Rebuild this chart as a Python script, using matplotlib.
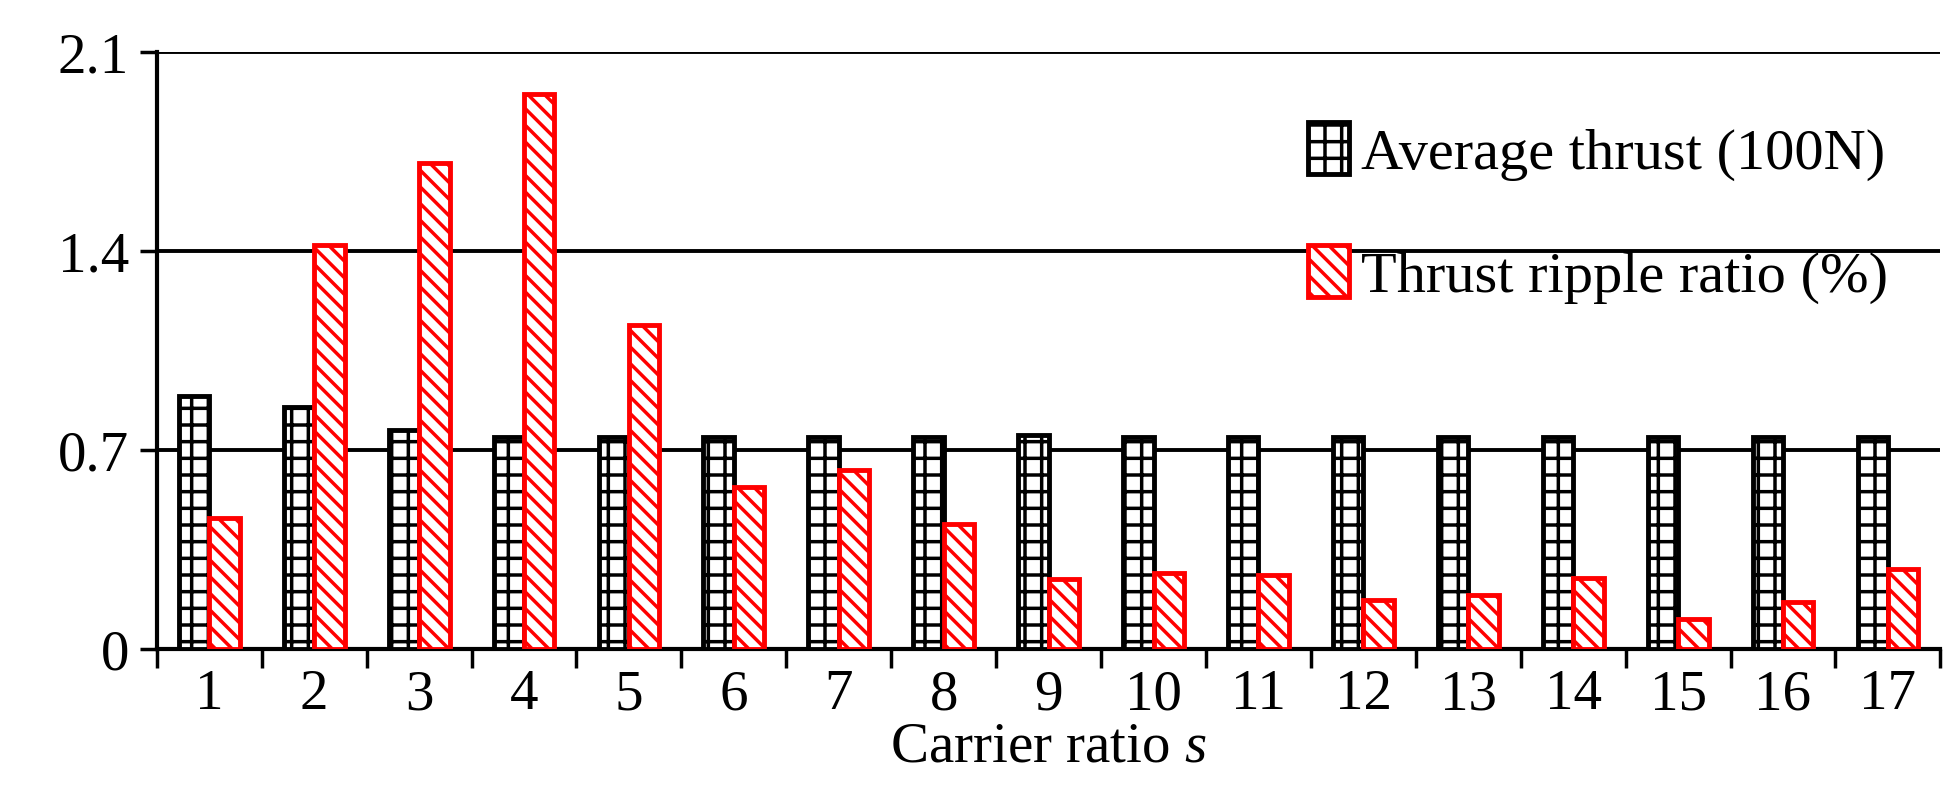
import matplotlib.pyplot as plt
import numpy as np

plt.rcParams['font.family'] = ['Liberation Serif', 'DejaVu Serif']
plt.rcParams['mathtext.fontset'] = 'custom'
plt.rcParams['mathtext.it'] = 'Liberation Serif:italic'
plt.rcParams['mathtext.rm'] = 'Liberation Serif'
plt.rcParams['hatch.linewidth'] = 2.5

carrier = list(range(1, 18))
avg_thrust = [0.89, 0.85, 0.77, 0.745, 0.745, 0.745, 0.745, 0.745, 0.75, 0.745,
              0.745, 0.745, 0.745, 0.745, 0.745, 0.745, 0.745]
ripple = [0.46, 1.42, 1.71, 1.95, 1.14, 0.57, 0.63, 0.44, 0.245, 0.265,
          0.26, 0.17, 0.19, 0.25, 0.105, 0.165, 0.28]
yticks = [0, 0.7, 1.4, 2.1]

fig = plt.figure(figsize=(19.6, 8.12), dpi=100)
ax = fig.add_axes([0.080, 0.200, 0.910, 0.735])

x = np.arange(len(carrier))
w = 0.29
ax.bar(x - w / 2, avg_thrust, w, facecolor='white', edgecolor='black',
       hatch='+', linewidth=3.5, label='Average thrust (100N)', zorder=3)
ax.bar(x + w / 2, ripple, w, facecolor='white', edgecolor='red',
       hatch='\\\\', linewidth=3.5, label='Thrust ripple ratio (%)', zorder=3)

ax.set_ylim(0, 2.1)
ax.set_xlim(-0.5, len(carrier) - 0.5)
ax.set_yticks(yticks)
ax.set_yticklabels(['0', '0.7', '1.4', '2.1'])
for y in yticks[1:]:
    ax.axhline(y, color='black', linewidth=2.8, zorder=1)

ax.set_xticks(x)
ax.set_xticklabels([str(c) for c in carrier])
ax.set_xticks(np.arange(-0.5, len(carrier)), minor=True)
ax.tick_params(axis='x', which='major', length=0, labelsize=41, pad=14)
ax.tick_params(axis='x', which='minor', length=14, width=2.5, direction='out')
ax.tick_params(axis='y', length=12, width=2.5, labelsize=41, pad=8)

for s in ['top', 'right']:
    ax.spines[s].set_visible(False)
for s in ['left', 'bottom']:
    ax.spines[s].set_linewidth(3)

ax.set_xlabel('Carrier ratio $\\mathit{s}$', fontsize=41, labelpad=0)

ax.legend(loc='upper right', bbox_to_anchor=(1.0, 0.97), frameon=False,
          fontsize=42, handlelength=0.7, handleheight=1.0, handletextpad=0.2,
          labelspacing=1.1)

fig.savefig('out.png', dpi=100)
